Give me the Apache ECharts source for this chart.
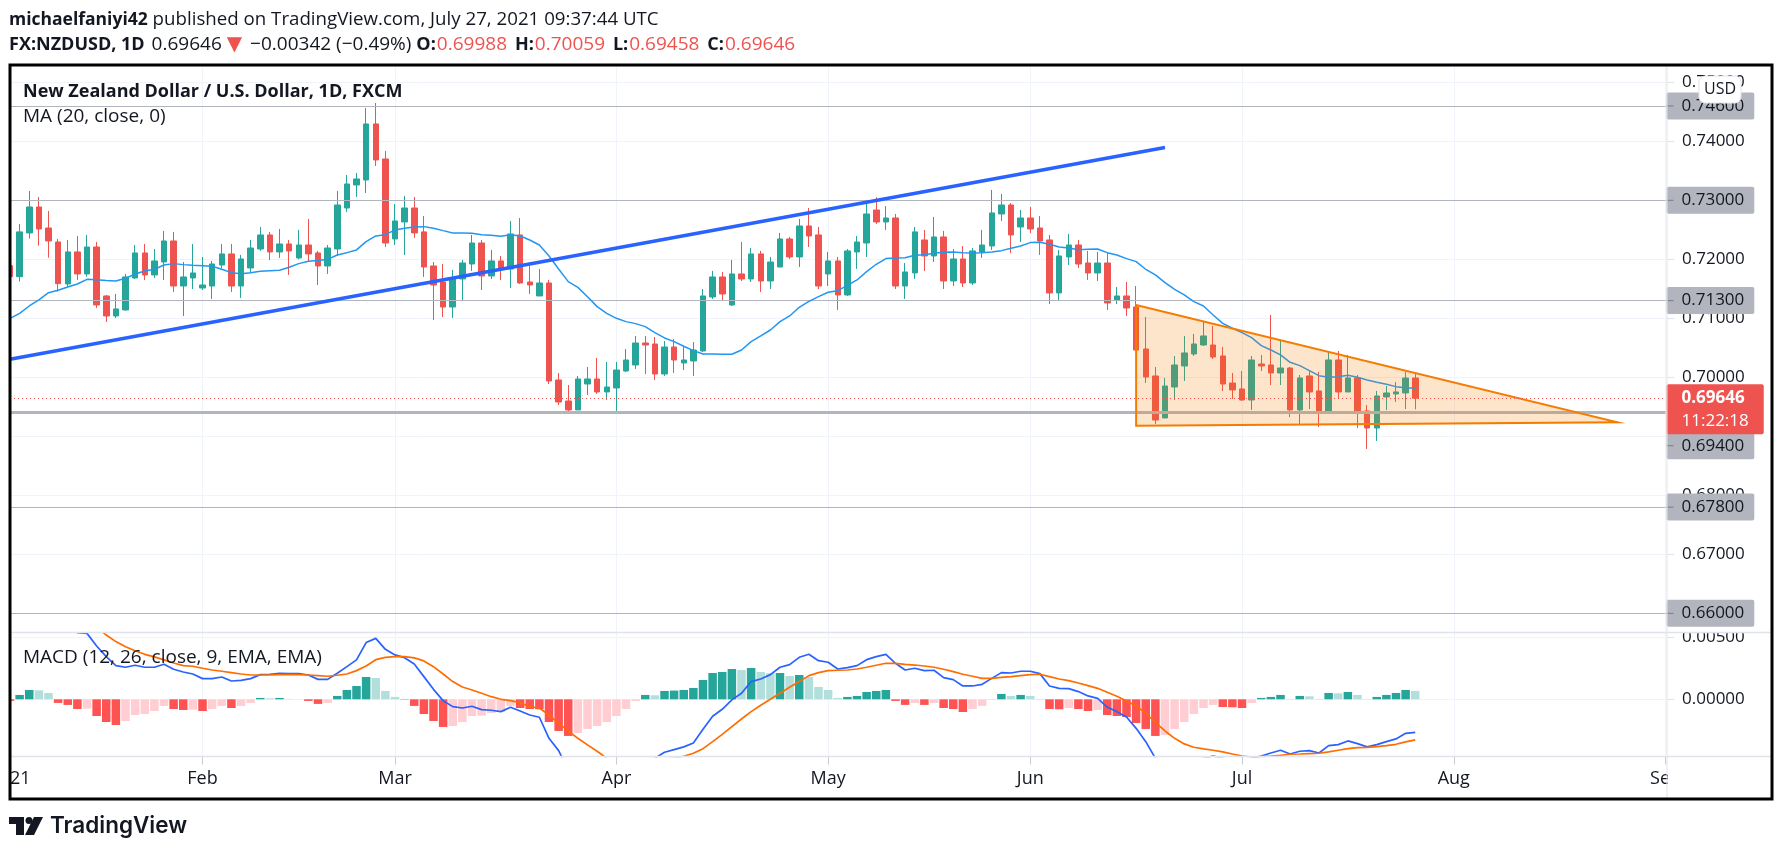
<!DOCTYPE html>
<html lang="en" style="height: 100%">

<head>
  <meta charset="utf-8">
  <style>
    html,
    body {
      margin: 0;
      padding: 0;
      width: 100%;
      height: 100%;
      overflow: hidden;
      background: #fff;
    }
  </style>
</head>

<body>
  <div id="container" style="height: 100%;width: 100%;"></div>

  <script type="text/javascript" src="https://cdn.jsdelivr.net/npm/echarts@6/dist/echarts.min.js"></script>
  <script type="text/javascript">

    // daily candles, Jan 4 2021 .. Jul 27 2021
    const opens = [
      .71893, .71706, .72447, .72887, .72531, .72294, .71582, .72125, .71752, .72209,
      .71379, .71040, .71142, .71684, .72108, .71735, .71955, .72311, .71548, .71684,
      .71514, .71548, .71904, .72091, .71548, .71853, .72175, .72413, .72125, .72260,
      .72023, .72243, .72108, .71887, .72175, .72870, .73260, .73345, .74294, .73701,
      .72345, .72633, .72870, .72465, .71887, .71616, .71192, .71667, .71921, .72277,
      .71718, .71972, .71837, .72413, .71616, .71379, .71599, .69955, .69599, .69447,
      .69887, .69972, .69752, .69819, .70107, .70209, .70582, .70565, .70057, .70514,
      .70243, .70277, .70447, .71362, .71701, .71226, .71752, .71667, .72091, .71633,
      .71870, .72345, .72040, .72565, .72413, .71752, .71972, .71396, .72125, .72277,
      .72836, .72633, .72701, .71548, .71769, .72328, .72057, .72379, .71633, .72006,
      .71599, .72125, .72226, .72769, .72921, .72548, .72701, .72531, .72328, .71430,
      .72040, .72243, .71938, .71769, .71938, .71311, .71379, .71192, .70480, .70023,
      .69311, .69836, .70192, .70396, .70548, .70548, .70362, .69904, .69803, .69616,
      .70226, .70209, .70074, .70158, .69447, .70023, .69769, .69390, .70294, .69752,
      .69989, .69430, .69141, .69667, .69718, .69735, .69988
    ]
    const highs = [
      .71961, .72599, .73159, .73057, .72820, .72345, .72328, .72396, .72413, .72294,
      .71396, .71413, .71752, .72243, .72260, .72175, .72481, .72465, .71955, .72260,
      .72040, .71972, .72260, .72260, .72074, .72328, .72548, .72465, .72514, .72328,
      .72498, .72684, .72142, .72243, .73159, .73430, .73464, .74565, .74650, .73837,
      .72938, .73074, .73057, .72735, .71955, .71921, .71820, .71989, .72413, .72328,
      .72159, .72057, .72650, .72701, .71887, .71837, .71650, .70074, .69870, .70023,
      .70175, .70328, .70260, .70260, .70480, .70701, .70701, .70684, .70616, .70650,
      .70514, .70599, .71497, .71803, .71786, .71989, .72294, .72192, .72142, .72040,
      .72447, .72379, .72684, .72870, .72548, .72125, .72040, .72175, .72396, .73006,
      .73051, .72904, .72769, .71938, .72548, .72498, .72718, .72481, .72175, .72226,
      .72192, .72498, .73176, .73108, .72955, .72836, .72887, .72735, .72413, .72159,
      .72430, .72328, .72142, .72125, .72108, .71531, .71616, .71548, .71023, .70175,
      .69989, .70362, .70701, .70735, .70938, .70870, .70514, .70074, .70107, .70362,
      .70379, .71057, .70633, .70175, .70040, .70107, .70090, .70430, .70447, .70379,
      .70040, .69531, .69769, .69853, .69921, .70090, .70059
    ]
    const lows = [
      .71650, .71622, .72351, .72232, .72028, .71452, .71531, .71650, .71706, .71175,
      .70938, .71006, .71130, .71667, .71650, .71684, .71650, .71447, .71040, .71497,
      .71480, .71328, .71848, .71447, .71345, .71769, .72142, .71989, .72023, .71735,
      .72000, .71972, .71565, .71752, .72057, .72803, .73057, .73125, .73582, .72209,
      .72243, .72074, .72362, .71701, .70972, .71023, .71006, .71294, .71803, .71480,
      .71667, .71650, .71514, .71582, .71413, .71379, .69887, .69531, .69413, .69447,
      .69701, .69718, .69616, .69430, .70090, .70141, .70057, .69955, .70023, .70074,
      .70124, .70023, .70430, .71328, .71311, .71209, .71633, .71616, .71447, .71497,
      .71870, .72006, .71870, .72209, .71497, .71548, .71142, .71379, .71837, .72040,
      .72599, .72498, .71497, .71328, .71667, .71803, .71955, .71497, .71548, .71531,
      .71565, .72023, .72159, .72650, .72108, .72294, .72447, .72074, .71243, .71311,
      .71904, .71853, .71650, .71633, .71142, .71243, .71040, .70463, .69904, .69209,
      .69311, .69616, .69938, .70362, .70531, .70311, .69769, .69633, .69599, .69447,
      .70107, .69870, .69870, .69328, .69192, .69463, .69158, .69390, .69633, .69752,
      .69141, .68785, .68921, .69447, .69582, .69463, .69458
    ]
    const closes = [
      .71706, .72465, .72887, .72514, .72311, .71588, .72125, .71752, .72209, .71226,
      .71040, .71159, .71701, .72108, .71735, .71972, .72311, .71548, .71701, .71769,
      .71565, .71921, .72091, .71548, .72006, .72192, .72413, .72125, .72260, .72142,
      .72243, .72091, .71887, .72192, .72921, .73277, .73362, .74294, .73684, .72277,
      .72650, .72870, .72447, .71870, .71565, .71192, .71667, .71938, .72277, .71718,
      .71972, .71837, .72430, .71599, .71565, .71599, .69938, .69582, .69447, .69972,
      .69972, .69752, .69836, .70124, .70294, .70582, .70548, .70057, .70514, .70294,
      .70294, .70463, .71379, .71701, .71413, .71752, .71667, .72091, .71633, .71955,
      .72345, .72040, .72565, .72396, .71548, .71972, .71396, .72142, .72294, .72769,
      .72633, .72701, .71548, .71786, .72465, .72057, .72379, .71633, .72006, .71599,
      .72142, .72243, .72786, .72921, .72413, .72701, .72514, .72311, .71430, .72057,
      .72243, .71921, .71769, .71938, .71260, .71379, .71175, .70463, .70006, .69277,
      .69853, .70209, .70413, .70565, .70701, .70345, .69887, .69786, .69616, .70294,
      .70192, .70074, .70158, .69447, .69989, .69752, .69390, .70294, .69752, .69989,
      .69413, .69141, .69684, .69735, .69752, .69988, .69646
    ]
    const ma20 = [
      .71000, .71085, .71209, .71311, .71435, .71475, .71531, .71582, .71661, .71655,
      .71639, .71633, .71678, .71752, .71803, .71831, .71904, .71927, .71910, .71899,
      .71893, .71882, .71831, .71774, .71757, .71774, .71797, .71808, .71814, .71865,
      .71927, .71966, .71978, .72000, .72074, .72113, .72159, .72300, .72396, .72418,
      .72498, .72526, .72548, .72554, .72526, .72486, .72447, .72447, .72441, .72418,
      .72407, .72390, .72418, .72396, .72328, .72243, .72057, .71837, .71622, .71525,
      .71367, .71198, .71085, .71000, .70944, .70910, .70859, .70757, .70667, .70605,
      .70526, .70452, .70396, .70396, .70390, .70390, .70463, .70605, .70701, .70802,
      .70944, .71040, .71187, .71288, .71367, .71441, .71469, .71559, .71650, .71791,
      .71916, .72012, .72023, .72028, .72068, .72079, .72102, .72119, .72125, .72113,
      .72108, .72113, .72125, .72147, .72187, .72226, .72283, .72288, .72254, .72209,
      .72192, .72164, .72170, .72175, .72113, .72074, .72012, .71961, .71831, .71735,
      .71605, .71492, .71396, .71283, .71209, .71057, .70915, .70831, .70757, .70673,
      .70537, .70463, .70379, .70254, .70198, .70113, .70028, .70000, .70011, .70034,
      .70000, .69955, .69915, .69881, .69842, .69825, .69814
    ]

    // MACD (12, 26, close, 9)
    const macdHist = [
      -.00013, .00035, .00075, .00072, .00051, -.00029, -.00045, -.00078, -.00075, -.00134,
      -.00182, -.00206, -.00174, -.00126, -.00118, -.00094, -.00053, -.00078, -.00086, -.00083,
      -.00094, -.00078, -.00053, -.0007, -.00053, -.00029, .00011, .00008, .00011, .00003,
      .00001, -.00013, -.00037, -.00029, .00027, .00075, .00107, .00179, .00171, .00067,
      .00019, -.00003, -.00053, -.00118, -.00174, -.00222, -.00214, -.00182, -.00134, -.00131,
      -.0011, -.00102, -.00053, -.0007, -.00078, -.0008, -.00182, -.00254, -.00294, -.0027,
      -.00238, -.00214, -.00182, -.00134, -.00078, -.00013, .00035, .00032, .00067, .0007,
      .00075, .00091, .00155, .00211, .00219, .00243, .00235, .00251, .00219, .00209,
      .00211, .00187, .00195, .00179, .00099, .00075, .00011, .00019, .00027, .00059,
      .00067, .00075, -.00013, -.00045, -.00029, -.00045, -.00029, -.0007, -.00078, -.00102,
      -.00078, -.00053, -.00005, .00043, .00027, .00035, .00027, .00003, -.00078, -.0008,
      -.0007, -.00078, -.00094, -.00086, -.00126, -.00134, -.00142, -.0019, -.00238, -.00294,
      -.00286, -.00238, -.00182, -.00118, -.0007, -.00045, -.00062, -.00064, -.0007, -.00029,
      .00011, .00019, .00035, .00003, .00027, .00024, .00003, .00051, .00048, .00059,
      .00035, .00003, .00019, .00035, .00051, .00075, .00067
    ]
    const macdLine = [
      .0077, .00743, .00717, .0069, .0065, .0061, .00583, .00535, .00529, .00428,
      .00342, .0027, .00257, .00273, .00257, .00257, .00281, .00241, .00219, .00203,
      .00166, .00166, .00179, .00147, .00152, .00166, .00198, .00201, .00209, .00206,
      .00206, .00195, .0016, .0016, .00209, .00262, .00316, .00455, .00489, .00401,
      .00356, .00334, .00283, .00182, .0008, -.00011, -.00059, -.0007, -.00056, -.00083,
      -.00088, -.00099, -.00064, -.00094, -.00126, -.00144, -.00313, -.00412, -.00567, -.00647,
      -.00727, -.00754, -.00727, -.00674, -.0062, -.00567, -.00513, -.00473, -.00425, -.00404,
      -.00382, -.0035, -.00241, -.00136, -.0008, -.00005, .00048, .00142, .00163, .00198,
      .00257, .00278, .00337, .00361, .0031, .00297, .00243, .00254, .0027, .00318,
      .00342, .00361, .00289, .00235, .00249, .0023, .00233, .00174, .00158, .00107,
      .00107, .0012, .00168, .00214, .00211, .00225, .00225, .00206, .00107, .00088,
      .00086, .00062, .00027, .00008, -.00062, -.00099, -.00142, -.00233, -.0034, -.00473,
      -.00513, -.0054, -.0054, -.00513, -.00473, -.00455, -.00473, -.005, -.005, -.00473,
      -.00455, -.00431, -.00409, -.00439, -.00417, -.00412, -.00431, -.00372, -.00364, -.00334,
      -.00356, -.00382, -.00364, -.0034, -.00318, -.00273, -.00265
    ]
    const signalLine = [
      .0082, .008, .0078, .0076, .0074, .0072, .007, .0065, .006, .00578,
      .00516, .00463, .00422, .0039, .00361, .0034, .00316, .00291, .0027, .00265,
      .00249, .00235, .00225, .00214, .00203, .00195, .00195, .00195, .00198, .00198,
      .00198, .00195, .0019, .00185, .00193, .00203, .0023, .00267, .00318, .00337,
      .00342, .00342, .00332, .00308, .00262, .00203, .00142, .00099, .00075, .00048,
      .00021, 0, -.00011, -.00027, -.00059, -.0007, -.00126, -.00193, -.00254, -.00313,
      -.00366, -.00417, -.00473, -.00508, -.00527, -.00532, -.00521, -.005, -.00481, -.00471,
      -.00457, -.00433, -.00396, -.0034, -.00281, -.00219, -.00158, -.00099, -.00048, 0,
      .00048, .00096, .00142, .0019, .00214, .0023, .00233, .00235, .00243, .00257,
      .00273, .00289, .00289, .00281, .00275, .00267, .00257, .00241, .00222, .00201,
      .00185, .00168, .00168, .00176, .00182, .0019, .00198, .00201, .00182, .00163,
      .0015, .00131, .0011, .00088, .00056, .00024, -.00013, -.00053, -.00112, -.00185,
      -.00254, -.00313, -.00358, -.00385, -.00398, -.00409, -.00422, -.00439, -.00455, -.00463,
      -.0046, -.00455, -.00449, -.00441, -.00439, -.00436, -.00433, -.00422, -.00409, -.00396,
      -.00388, -.00385, -.0038, -.00372, -.00361, -.00342, -.00326
    ]

    // drawings, [candle index, price]
    const trendLine = [[0, .70305], [120, .73896]]
    const trianglePoints = [[117, .71225], [117, .6918], [167.4, .69237]]

    // axis ticks
    const monthTickIndex = [0, 20, 40, 63, 85, 106, 128, 150, 172]
    const monthTickLabels = ['2021', 'Feb', 'Mar', 'Apr', 'May', 'Jun', 'Jul', 'Aug', 'Sep']
    const priceTicks = [.66, .67, .68, .69, .70, .71, .72, .73, .74, .75]
    const macdTicks = [0, .005]
    const levels = [.746, .73, .713, .678, .66]
    const thickLevel = .694
    const lastPrice = .69646
    const countdown = '11:22:18'

    // trading days on the axis, weekends left out
    const categories = []
    for (let d = new Date(Date.UTC(2021, 0, 4)); categories.length < 173; d.setUTCDate(d.getUTCDate() + 1)) {
      if (d.getUTCDay() % 6 !== 0) categories.push(d.toISOString().slice(0, 10))
    }

    const FONT = '"Open Sans", sans-serif'
    const TEXT = '#131722'
    const RED = '#ef5350'
    const GREEN = '#26a69a'
    const GRID = '#f0f3fa'
    const LEVEL = '#b2b5be'
    const PANE = '#e0e3eb'
    const X0 = 10, AXIS_X = 1667, RIGHT = 1772, TOP = 65, BOTTOM = 799
    const MAIN_TOP = 66.5, MAIN_END = 632.5, MACD_TOP = 633, MACD_END = 756.5

    const isMonth = (index) => monthTickIndex.includes(index)
    const rx = (v) => ({ yAxis: v })

    const pill = (value, dy) => ({
      coord: [172, value],
      symbol: 'circle',
      symbolSize: 0,
      label: {
        show: true,
        position: 'right',
        distance: 0,
        offset: [1, dy],
        formatter: '{t|}{v|' + value.toFixed(5) + '}',
        backgroundColor: LEVEL,
        borderRadius: 2,
        padding: [3, 10, 3, 0],
        rich: {
          t: { width: 7, height: 1, backgroundColor: '#787b86' },
          v: { fontFamily: FONT, fontSize: 17, lineHeight: 21, color: TEXT, padding: [0, 0, 0, 8] },
        },
      },
    })

    const pricePill = (value) => ({
      coord: [172, value],
      symbol: 'circle',
      symbolSize: 0,
      label: {
        show: true,
        position: 'right',
        distance: 0,
        offset: [1, 11],
        formatter: '{p|' + value.toFixed(5) + '}\n{c|' + countdown + '}',
        backgroundColor: RED,
        borderRadius: 2,
        padding: [2, 15, 2, 15],
        rich: {
          p: { fontFamily: FONT, fontSize: 17, fontWeight: 700, lineHeight: 23, color: '#fff' },
          c: { fontFamily: FONT, fontSize: 17, lineHeight: 23, color: '#fff' },
        },
      },
    })

    const helperLine = (xi, z, extra) => Object.assign({
      type: 'line', xAxisIndex: xi, yAxisIndex: xi, data: [], z: z, silent: true,
    }, extra)

    const logoFill = '#131722'

    const dom = document.getElementById('container')
    const myChart = echarts.init(dom, null, { renderer: 'canvas' })

    const option = {
      animation: false,
      backgroundColor: '#fff',
      // the 2021 label hangs over the left edge, keep the grid where it is
      grid: [
        { left: X0, width: 1655.5, top: MAIN_TOP, height: MAIN_END - MAIN_TOP, outerBoundsMode: 'none' },
        { left: X0, width: 1655.5, top: MACD_TOP, height: MACD_END - MACD_TOP, outerBoundsMode: 'none' },
      ],
      xAxis: [0, 1].map((i) => ({
        type: 'category',
        gridIndex: i,
        data: categories,
        boundaryGap: false,
        axisLine: { show: false, onZero: false },
        axisTick: i === 0 ? { show: false } : {
          show: true, length: 8, interval: (idx) => isMonth(idx),
          lineStyle: { color: '#c9cbd2' },
        },
        axisLabel: i === 0 ? { show: false } : {
          show: true,
          interval: (idx) => isMonth(idx),
          formatter: (v, idx) => monthTickLabels[monthTickIndex.indexOf(idx)],
          margin: 13,
          fontFamily: FONT,
          fontSize: 18,
          color: TEXT,
          hideOverlap: false,
          showMinLabel: true,
          showMaxLabel: true,
        },
        splitLine: { show: true, interval: (idx) => isMonth(idx), lineStyle: { color: GRID } },
      })),
      yAxis: [
        {
          type: 'value', gridIndex: 0, position: 'right', offset: 1.5,
          min: 0.65675, max: 0.75268, scale: true,
          splitLine: { show: false },
          axisLine: { show: false },
          axisTick: { show: true, length: 7, customValues: priceTicks, lineStyle: { color: PANE } },
          axisLabel: {
            show: true, margin: 15, customValues: priceTicks, hideOverlap: false,
            showMinLabel: true, showMaxLabel: true, padding: [3, 0, 0, 0],
            formatter: (v) => v.toFixed(5), fontFamily: FONT, fontSize: 17, color: TEXT,
          },
        },
        {
          type: 'value', gridIndex: 1, position: 'right', offset: 1.5,
          min: -0.00459, max: 0.00532, scale: true,
          splitLine: { show: false },
          axisLine: { show: false },
          axisTick: { show: true, length: 7, customValues: macdTicks, lineStyle: { color: PANE } },
          axisLabel: {
            show: true, margin: 15, customValues: macdTicks, hideOverlap: false, padding: [3, 0, 0, 0],
            formatter: (v) => v.toFixed(5), fontFamily: FONT, fontSize: 17, color: TEXT,
          },
        },
      ],
      series: [
        // horizontal grid of both panes
        helperLine(0, 1, {
          markLine: {
            silent: true, symbol: 'none', z: 1, precision: 6, animation: false, label: { show: false },
            lineStyle: { color: GRID, width: 1, type: 'solid' },
            data: priceTicks.map(rx),
          },
        }),
        helperLine(1, 1, {
          markLine: {
            silent: true, symbol: 'none', z: 1, precision: 6, animation: false, label: { show: false },
            lineStyle: { color: GRID, width: 1, type: 'solid' },
            data: macdTicks.map(rx),
          },
        }),
        {
          name: 'NZDUSD',
          type: 'candlestick',
          xAxisIndex: 0,
          yAxisIndex: 0,
          z: 2,
          barWidth: 6,
          silent: true,
          data: opens.map((o, i) => [o, closes[i], lows[i], highs[i]]),
          itemStyle: {
            color: GREEN, color0: RED, borderColor: GREEN, borderColor0: RED,
            borderColorDoji: RED, borderWidth: 1,
          },
        },
        {
          name: 'MA (20, close, 0)',
          type: 'line',
          data: ma20,
          symbol: 'none',
          z: 3,
          silent: true,
          lineStyle: { color: '#2196f3', width: 1.5 },
        },
        // support and resistance levels
        helperLine(0, 3, {
          markLine: {
            silent: true, symbol: 'none', z: 3, precision: 6, animation: false, label: { show: false },
            lineStyle: { color: LEVEL, width: 1.2, type: 'solid' },
            data: levels.map(rx).concat([{ yAxis: thickLevel, lineStyle: { color: LEVEL, width: 3, type: 'solid' } }]),
          },
        }),
        {
          name: 'triangle',
          type: 'custom',
          xAxisIndex: 0,
          yAxisIndex: 0,
          z: 4,
          silent: true,
          data: trianglePoints,
          renderItem: (params, api) => {
            if (params.dataIndex !== 0) return null
            return {
              type: 'polygon',
              shape: { points: trianglePoints.map((p) => api.coord(p)) },
              style: { fill: 'rgba(245, 124, 0, 0.2)', stroke: '#f57c00', lineWidth: 2 },
            }
          },
        },
        {
          name: 'trend',
          type: 'line',
          data: trendLine,
          symbol: 'none',
          z: 5,
          silent: true,
          lineStyle: { color: '#2962ff', width: 3.5 },
        },
        // last price, dotted, and all price scale pills
        helperLine(0, 6, {
          markLine: {
            silent: true, symbol: 'none', z: 5, precision: 6, animation: false, label: { show: false },
            lineStyle: { color: RED, width: 1, type: [1, 3] },
            data: [rx(lastPrice)],
          },
          markPoint: {
            silent: true, z: 7, animation: false,
            data: levels.map((v) => pill(v, 0))
              .concat([pill(thickLevel, 33), pricePill(lastPrice)]),
          },
        }),
        {
          name: 'Histogram',
          type: 'bar',
          xAxisIndex: 1,
          yAxisIndex: 1,
          z: 2,
          barWidth: 8.5,
          silent: true,
          data: macdHist,
          itemStyle: {
            color: (p) => {
              const prev = p.dataIndex > 0 ? macdHist[p.dataIndex - 1] : 0
              if (p.value >= 0) return p.value > prev ? GREEN : '#b2dfdb'
              return p.value < prev ? '#ff5252' : '#ffcdd2'
            },
          },
        },
        {
          name: 'MACD',
          type: 'line',
          xAxisIndex: 1,
          yAxisIndex: 1,
          data: macdLine,
          symbol: 'none',
          z: 3,
          silent: true,
          lineStyle: { color: '#2962ff', width: 1.7 },
        },
        {
          name: 'Signal',
          type: 'line',
          xAxisIndex: 1,
          yAxisIndex: 1,
          data: signalLine,
          symbol: 'none',
          z: 4,
          silent: true,
          lineStyle: { color: '#ff6d00', width: 1.7 },
        },
      ],
      graphic: [
        // masks for what TradingView clips at the panes
        { type: 'rect', z: 8, silent: true, shape: { x: 0, y: 60, width: 9, height: 745 }, style: { fill: '#fff' } },
        { type: 'rect', z: 8, silent: true, shape: { x: AXIS_X + 1, y: 758, width: 102, height: 40 }, style: { fill: '#fff' } },
        { type: 'rect', z: 8, silent: true, shape: { x: AXIS_X + 1, y: 627.5, width: 102, height: 5 }, style: { fill: '#fff' } },
        // pane separators and price scale edge
        { type: 'line', z: 9, silent: true, shape: { x1: X0, y1: MAIN_END, x2: RIGHT, y2: MAIN_END }, style: { stroke: PANE, lineWidth: 1.5 } },
        { type: 'line', z: 9, silent: true, shape: { x1: X0, y1: MACD_END, x2: RIGHT, y2: MACD_END }, style: { stroke: PANE, lineWidth: 1.5 } },
        { type: 'line', z: 9, silent: true, shape: { x1: AXIS_X, y1: TOP, x2: AXIS_X, y2: BOTTOM }, style: { stroke: PANE, lineWidth: 1 } },
        // outer frame
        { type: 'rect', z: 10, silent: true, shape: { x: X0, y: TOP, width: RIGHT - X0, height: BOTTOM - TOP }, style: { fill: 'transparent', stroke: '#000', lineWidth: 3 } },
        // USD button
        { type: 'rect', z: 11, silent: true, shape: { x: 1699, y: 76, width: 42, height: 27, r: 6 }, style: { fill: '#fff', stroke: PANE, lineWidth: 1 } },
        { type: 'text', z: 12, silent: true, style: { x: 1720, y: 89.5, text: 'USD', font: '16px ' + FONT, fill: TEXT, align: 'center', verticalAlign: 'middle' } },
        // header
        {
          type: 'text', z: 12, silent: true,
          style: {
            x: 9, y: 20, verticalAlign: 'middle', fill: TEXT, font: '18.7px ' + FONT,
            text: '{b|michaelfaniyi42} published on TradingView.com, July 27, 2021 09:37:44 UTC',
            rich: { b: { font: '700 17.5px ' + FONT, fill: TEXT } },
          },
        },
        {
          type: 'text', z: 12, silent: true,
          style: {
            x: 9, y: 45, verticalAlign: 'middle', fill: TEXT, font: '19px ' + FONT,
            text: '{b2|FX:NZDUSD, 1D} 0.69646{t|▼} −0.00342 (−0.49%) {o|O:}{r|0.69988} {b|H:}{r|0.70059} {b|L:}{r|0.69458} {b|C:}{r2|0.69646}',
            rich: {
              b: { font: '700 18px ' + FONT, fill: TEXT },
              b2: { font: '700 18px ' + FONT, fill: TEXT, padding: [0, 2, 0, 0] },
              o: { font: '700 18px ' + FONT, fill: TEXT },
              r: { font: '19px ' + FONT, fill: RED, padding: [0, 3, 0, 1] },
              r2: { font: '19px ' + FONT, fill: RED, padding: [0, 0, 0, 1] },
              t: { font: '20px "DejaVu Sans"', fill: RED, padding: [0, 3, 0, 5] },
            },
          },
        },
        // pane legends
        { type: 'text', z: 12, silent: true, style: { x: 23, y: 91.5, verticalAlign: 'middle', text: 'New Zealand Dollar / U.S. Dollar, 1D, FXCM', font: '700 18px ' + FONT, fill: TEXT } },
        { type: 'text', z: 12, silent: true, style: { x: 23, y: 117, verticalAlign: 'middle', text: 'MA (20, close, 0)', font: '19px ' + FONT, fill: TEXT } },
        { type: 'text', z: 12, silent: true, style: { x: 23, y: 658, verticalAlign: 'middle', text: 'MACD (12, 26, close, 9, EMA, EMA)', font: '19px ' + FONT, fill: TEXT } },
        // TradingView logo
        { type: 'polygon', z: 12, silent: true, shape: { points: [[9, 817], [24, 817], [24, 835], [16, 835], [16, 824], [9, 824]] }, style: { fill: logoFill } },
        { type: 'circle', z: 12, silent: true, shape: { cx: 29, cy: 820.5, r: 3.5 }, style: { fill: logoFill } },
        { type: 'polygon', z: 12, silent: true, shape: { points: [[34, 817], [43, 817], [34, 835], [25, 835]] }, style: { fill: logoFill } },
        { type: 'text', z: 12, silent: true, style: { x: 50, y: 826, verticalAlign: 'middle', text: 'TradingView', font: '600 22.5px Inter, sans-serif', fill: logoFill } },
      ],
    }

    myChart.setOption(option)
    window.addEventListener('resize', myChart.resize)

  </script>
</body>

</html>
